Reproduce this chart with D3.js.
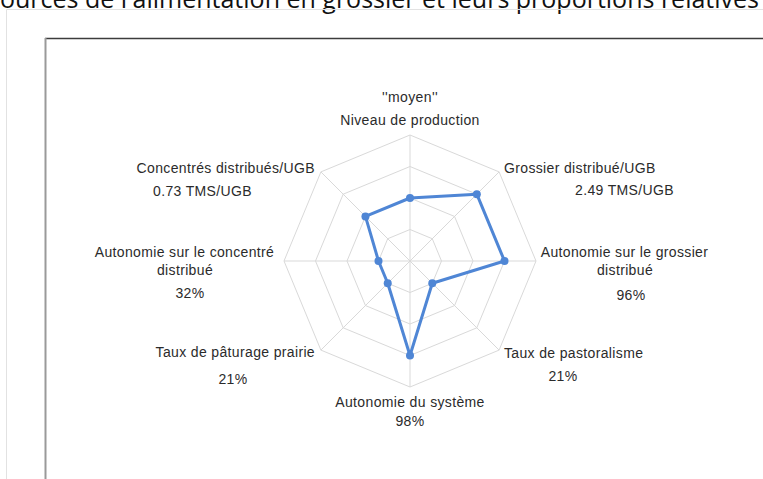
<!DOCTYPE html>
<html>
<head>
<meta charset="utf-8">
<script src="https://cdn.jsdelivr.net/npm/d3@7"></script>
<style>
  body { margin: 0; background: #fff; }
  svg { display: block; }
</style>
</head>
<body>
<div id="chart"></div>
<script>
// Data
const axes = ['Niveau de production', 'Grossier distribué/UGB', 'Autonomie sur le grossier distribué',
  'Taux de pastoralisme', 'Autonomie du système', 'Taux de pâturage prairie',
  'Autonomie sur le concentré distribué', 'Concentrés distribués/UGB'];
const scores = [2, 3, 3, 1, 3, 1, 1, 2];
const valueLabels = ["''moyen''", '2.49 TMS/UGB', '96%', '21%', '98%', '21%', '32%', '0.73 TMS/UGB'];
const gridLevels = [1, 2, 3, 4];
const pageTitle = "sources de l'alimentation en grossier et leurs proportions relatives";

const W = 763, H = 479;
const cx = 410, cy = 261, R = 126;
const blue = '#4F86D5';
const textColor = '#2b2b2b';

const svg = d3.select('#chart').append('svg').attr('width', W).attr('height', H);

// page bits around the chart (document view)
svg.append('text')
  .attr('x', -12).attr('y', 7.5)
  .attr('font-family', 'Open Sans, sans-serif')
  .attr('font-size', 25)
  .attr('fill', '#111')
  .text(pageTitle);
svg.append('path').attr('d', 'M6.5,479V9.5H763').attr('fill', 'none').attr('stroke', '#e2e2e2').attr('stroke-width', 1);

// chart frame
svg.append('line').attr('x1', 45).attr('x2', W).attr('y1', 38.5).attr('y2', 38.5)
  .attr('stroke', '#3c3c3c').attr('stroke-width', 1.5);
svg.append('line').attr('x1', 45.5).attr('x2', 45.5).attr('y1', 38).attr('y2', H)
  .attr('stroke', '#9a9a9a').attr('stroke-width', 2);

// scales
const angle = d3.scalePoint().domain(d3.range(axes.length)).range([0, 2 * Math.PI * (axes.length - 1) / axes.length]);
const r = d3.scaleLinear().domain([0, 4]).range([0, R]);
const px = (i, v) => cx + r(v) * Math.sin(angle(i));
const py = (i, v) => cy - r(v) * Math.cos(angle(i));

const g = svg.append('g');

// grid rings
g.selectAll('.ring').data(gridLevels).enter().append('path')
  .attr('class', 'ring')
  .attr('d', lv => d3.line()(axes.map((a, i) => [px(i, lv), py(i, lv)])) + 'Z')
  .attr('fill', 'none').attr('stroke', '#d9d9d9').attr('stroke-width', 1);

// spokes
g.selectAll('.spoke').data(axes).enter().append('line')
  .attr('class', 'spoke')
  .attr('x1', cx).attr('y1', cy)
  .attr('x2', (d, i) => px(i, 4)).attr('y2', (d, i) => py(i, 4))
  .attr('stroke', '#d9d9d9').attr('stroke-width', 1);

// series
g.append('path')
  .attr('d', d3.line()(scores.map((v, i) => [px(i, v), py(i, v)])) + 'Z')
  .attr('fill', 'none').attr('stroke', blue).attr('stroke-width', 3).attr('stroke-linejoin', 'round');
g.selectAll('.dot').data(scores).enter().append('circle')
  .attr('cx', (v, i) => px(i, v)).attr('cy', (v, i) => py(i, v))
  .attr('r', 4).attr('fill', blue);

// label layout: lines of text per axis, each [text, x, y baseline, anchor]
const layout = [
  [[valueLabels[0], cx, 101.5, 'middle'], [axes[0], cx, 125, 'middle']],
  [['Grossier distribué/UGB', 504, 173, 'start'], [valueLabels[1], 575, 195, 'start']],
  [['Autonomie sur le grossier', 624.5, 257, 'middle'], ['distribué', 625, 275, 'middle'], [valueLabels[2], 631, 299.5, 'middle']],
  [['Taux de pastoralisme', 504, 358, 'start'], [valueLabels[3], 563, 381, 'middle']],
  [[axes[4], cx, 407, 'middle'], [valueLabels[4], cx, 426, 'middle']],
  [['Taux de pâturage prairie', 315, 357, 'end'], [valueLabels[5], 233, 384, 'middle']],
  [['Autonomie sur le concentré', 184.5, 257, 'middle'], ['distribué', 185, 275, 'middle'], [valueLabels[6], 190, 298, 'middle']],
  [['Concentrés distribués/UGB', 315, 173, 'end'], [valueLabels[7], 153, 196, 'start']]
];

const labels = svg.append('g')
  .attr('font-family', 'Liberation Sans, Arial, sans-serif')
  .attr('font-size', 14)
  .attr('letter-spacing', 0.35)
  .attr('fill', textColor);
labels.selectAll('text').data(layout.flat()).enter().append('text')
  .attr('x', d => d[1]).attr('y', d => d[2])
  .attr('text-anchor', d => d[3])
  .text(d => d[0]);
</script>
</body>
</html>
